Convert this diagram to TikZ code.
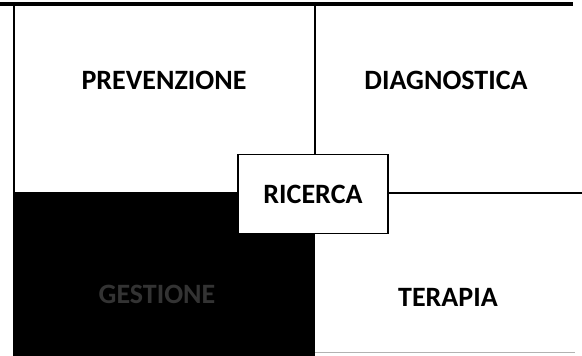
\documentclass[tikz,border=0pt]{standalone}
\usepackage{fontspec}
\setmainfont{Carlito}
\begin{document}
\begin{tikzpicture}[x=1pt,y=-1pt,
  lbl/.style={font=\fontsize{28}{32}\selectfont\bfseries, inner sep=0pt},
  rule/.style={draw=black, line width=1.3pt},
  centerbox/.style={draw=black, line width=1.6pt, fill=white, minimum width=150pt, minimum height=79pt, inner sep=0pt}]
\useasboundingbox (0,0) rectangle (582,356);
% black quadrant
\fill[black] (14,193) rectangle (315,356);
% frame lines
\coordinate (tl) at (0,4);
\coordinate (tr) at (573,4);
\draw[line width=4.5pt] (tl) -- (tr);
\coordinate (lt) at (14,5);
\coordinate (lb) at (14,356);
\draw[rule] (lt) -- (lb);
\coordinate (mt) at (315,5);
\coordinate (rr) at (582,193);
\coordinate (ll) at (14,193);
\coordinate (bl) at (315,352);
\coordinate (br) at (575,352);
\draw[draw=gray!60, line width=1pt] (bl) -- (br);
% centre box
\node[centerbox] (ric) at (313,194) {};
\draw[rule] (mt) -- (ric.north -| mt);
\draw[rule] (ll) -- (ric.west |- ll);
\draw[rule] (ric.east |- rr) -- (rr);
\node[lbl] (ricl) at (ric.center) {RICERCA};
% labels
\node[lbl] (prev) at (164,80) {PREVENZIONE};
\node[lbl] (diag) at (446,80) {DIAGNOSTICA};
\node[lbl] (ter) at (448,297) {TERAPIA};
\node[lbl, text=gray!40!black] (gest) at (157,294) {GESTIONE};
\end{tikzpicture}
\end{document}
